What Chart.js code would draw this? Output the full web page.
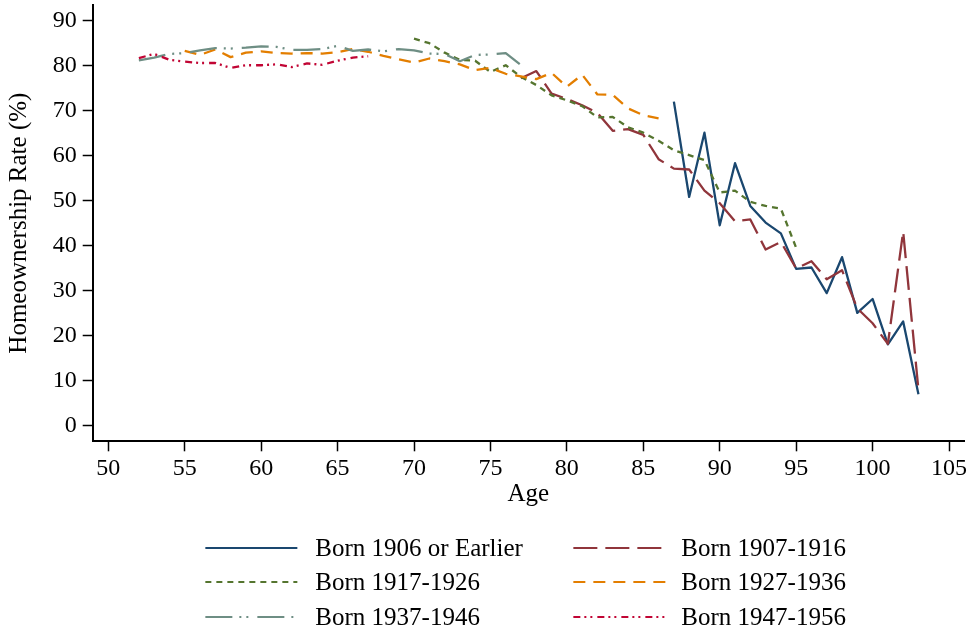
<!DOCTYPE html>
<html><head><meta charset="utf-8">
<script src="https://cdn.jsdelivr.net/npm/chart.js@4.4.0/dist/chart.umd.min.js"></script>
<style>html,body{margin:0;padding:0;background:#fff}#wrap{width:971px;height:634px}</style>
</head><body><div id="wrap"><canvas id="c" width="971" height="634"></canvas></div>
<script>
// Ages (x) and homeownership rates (%) per birth cohort
const ages1906 = [87,88,89,90,91,92,93,94,95,96,97,98,99,100,101,102,103];
const born1906 = [72.0,50.8,65.1,44.5,58.3,48.8,45.1,42.7,34.8,35.1,29.4,37.4,25.0,28.1,18.0,23.1,6.9];

const ages1907 = [77,78,79,80,81,82,83,84,85,86,87,88,89,90,91,92,93,94,95,96,97,98,99,100,101,102,103];
const born1907 = [77.2,78.8,73.8,72.6,71.2,69.5,65.5,65.9,64.6,59.2,57.1,56.9,52.2,49.4,45.4,45.8,39.1,40.8,34.9,36.5,32.5,34.5,26.0,22.7,18.1,43.1,7.9];

const ages1917 = [70,71,72,73,74,75,76,77,78,79,80,81,82,83,84,85,86,87,88,89,90,91,92,93,94,95];
const born1917 = [86.0,85.0,82.9,81.3,81.1,78.6,80.1,77.5,75.7,73.4,72.3,71.0,68.5,68.6,66.3,65.1,63.3,61.2,60.1,59.0,51.8,52.2,49.7,48.8,48.2,39.5];

const ages1927 = [55,56,57,58,59,60,61,62,63,64,65,66,67,68,69,70,71,72,73,74,75,76,77,78,79,80,81,82,83,84,85,86];
const born1927 = [83.3,82.4,83.6,81.9,82.9,83.2,82.8,82.7,82.8,82.7,83.0,83.7,83.1,82.2,81.4,80.7,81.6,81.0,80.3,79.0,79.5,78.2,77.6,77.0,78.4,75.3,78.0,73.6,73.5,70.5,69.0,68.3];

const ages1937 = [52,53,54,55,56,57,58,59,60,61,62,63,64,65,66,67,68,69,70,71,72,73,74,75,76,77];
const born1937 = [81.2,81.8,82.6,82.8,83.4,83.9,83.8,84.0,84.3,84.2,83.5,83.5,83.7,84.4,83.3,83.6,83.2,83.7,83.4,82.7,82.6,81.0,82.4,82.5,82.8,80.1];

const ages1947 = [52,53,54,55,56,57,58,59,60,61,62,63,64,65,66,67];
const born1947 = [81.7,82.6,81.3,80.9,80.6,80.6,79.5,80.1,80.1,80.3,79.7,80.5,80.2,81.1,81.8,82.1];

const seriesLabels = ["Born 1906 or Earlier","Born 1907-1916","Born 1917-1926","Born 1927-1936","Born 1937-1946","Born 1947-1956"];
const xTickValues = [50,55,60,65,70,75,80,85,90,95,100,105];
const yTickValues = [0,10,20,30,40,50,60,70,80,90];

const FONT = '"Liberation Serif", "Times New Roman", serif';

function pts(xs, ys){ return xs.map((x,i)=>({x:x, y:ys[i]})); }

const styles = [
  {color:'#1a476f', dash:[]},
  {color:'#90353b', dash:[24,8]},
  {color:'#55752f', dash:[6,5]},
  {color:'#e37e00', dash:[12,8]},
  {color:'#6e8e84', dash:[27,7,2,5,2,9]},
  {color:'#c10534', dash:[7,4,2,4,2,5]}
];
const allX = [ages1906,ages1907,ages1917,ages1927,ages1937,ages1947];
const allY = [born1906,born1907,born1917,born1927,born1937,born1947];

const datasets = seriesLabels.map((lab,i)=>({
  label: lab,
  data: pts(allX[i], allY[i]),
  borderColor: styles[i].color,
  backgroundColor: styles[i].color,
  borderDash: styles[i].dash,
  borderWidth: 2.3,
  borderCapStyle: 'butt',
  borderJoinStyle: 'round',
  pointRadius: 0,
  tension: 0,
  fill: false,
  order: 6 - i
}));

const legendPlugin = {
  id: 'stataLegend',
  afterDraw(chart){
    const ctx = chart.ctx;
    const ca = chart.chartArea;
    const cx = (ca.left + ca.right) / 2;
    const cols = [cx - 323, cx + 45];
    const textOff = [110, 108];
    const rows = [548, 582, 617];
    ctx.save();
    chart.data.datasets.forEach((d,i)=>{
      const c = i % 2, r = Math.floor(i / 2);
      const x = cols[c], y = rows[r];
      ctx.strokeStyle = d.borderColor;
      ctx.lineWidth = 2;
      ctx.lineCap = 'butt';
      ctx.setLineDash(d.borderDash || []);
      ctx.beginPath(); ctx.moveTo(x, y); ctx.lineTo(x + 92, y); ctx.stroke();
      ctx.setLineDash([]);
      ctx.fillStyle = '#000';
      ctx.font = '25px ' + FONT;
      ctx.textBaseline = 'middle';
      ctx.textAlign = 'left';
      ctx.fillText(d.label, x + textOff[c], y + 1);
    });
    ctx.restore();
  }
};

new Chart(document.getElementById('c'), {
  type: 'line',
  data: { datasets: datasets },
  plugins: [legendPlugin],
  options: {
    responsive: false,
    animation: false,
    devicePixelRatio: 1,
    layout: { padding: { left: 0, right: 7, top: 5, bottom: 124.7 } },
    plugins: { legend: { display: false }, tooltip: { enabled: false } },
    scales: {
      x: {
        type: 'linear',
        min: 48.98, max: 105.98,
        afterBuildTicks: (s)=>{ s.ticks = xTickValues.map(v=>({value:v})); },
        afterFit: (s)=>{ s.height = 68; s.paddingLeft = 0; s.paddingRight = 0; },
        ticks: { color:'#000', font:{family:FONT, size:24}, padding: 3, maxRotation:0, autoSkip:false },
        grid: { display:true, drawOnChartArea:false, drawTicks:true, tickLength:10, tickColor:'#000', tickWidth:1.5 },
        border: { display:true, color:'#000', width:2 },
        title: { display:true, text:'Age', color:'#000', font:{family:FONT, size:25}, padding:{top:0,bottom:0} }
      },
      y: {
        type: 'linear',
        min: -3.56, max: 93.5,
        afterBuildTicks: (s)=>{ s.ticks = yTickValues.map(v=>({value:v})); },
        afterFit: (s)=>{ s.width = 92.7; s.paddingTop = 0; s.paddingBottom = 0; },
        ticks: { color:'#000', font:{family:FONT, size:24}, padding: 6, autoSkip:false },
        grid: { display:true, drawOnChartArea:false, drawTicks:true, tickLength:10, tickColor:'#000', tickWidth:1.5 },
        border: { display:true, color:'#000', width:2 },
        title: { display:true, text:'Homeownership Rate (%)', color:'#000', font:{family:FONT, size:25}, padding:{top:4,bottom:0} }
      }
    }
  }
});
</script>
</body></html>
